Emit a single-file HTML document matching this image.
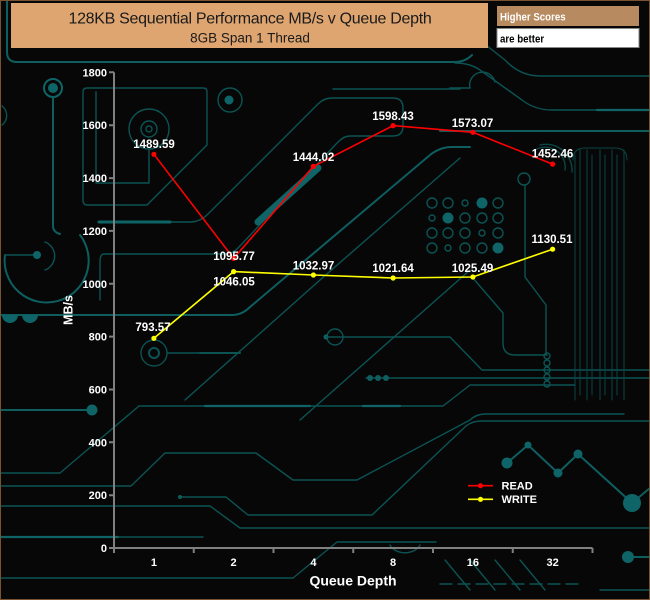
<!DOCTYPE html>
<html>
<head>
<meta charset="utf-8">
<style>
html,body{margin:0;padding:0;background:#070707;}
body{width:650px;height:600px;overflow:hidden;position:relative;}
svg{position:absolute;left:0;top:0;display:block;}
text{font-family:"Liberation Sans",Arial,sans-serif;}
</style>
</head>
<body>
<svg width="650" height="600" viewBox="0 0 650 600" xmlns="http://www.w3.org/2000/svg">
<rect x="0" y="0" width="650" height="600" fill="#070707"/>

<!-- ===== circuit background ===== -->
<g fill="none" stroke="#0c5354" stroke-width="1.4" stroke-linecap="round" stroke-linejoin="round">
  <!-- top frame -->
  <path d="M7,0 V52 Q7,62 17,62 H455 Q465,62 472,55" stroke-width="2" stroke="#0e5e60"/>
  <path d="M455,63 Q470,63 480,70 L522,100 Q535,110 552,110 H650"/>
  <path d="M597,110 H650" stroke-width="2.2" stroke="#0e6466"/>
  <path d="M480,40 Q492,50 505,60 Q520,76 540,76 H650"/>
  <path d="M450,88 H470"/>
  <path d="M470,88 A12,12 0 1 1 495,82"/>
  <path d="M440,131 H650" stroke-width="2" stroke="#0e5e60"/>
  <path d="M333,89 H460"/>
  <!-- left column with ring -->
  <circle cx="53" cy="88" r="9" stroke-width="2" stroke="#0e6466"/>
  <circle cx="53" cy="88" r="5" fill="#0e6466" stroke="none"/>
  <path d="M53,97 V226 Q53,232 60,234" stroke-width="2" stroke="#0e5e60"/>
  <path d="M5,255 A42,42 0 1 0 80,235" stroke-width="2" stroke="#0e5e60"/>
  <path d="M5,255 H33"/>
  <circle cx="37" cy="255" r="4" fill="#0e6466" stroke="none"/>
  <path d="M45,242 A15,15 0 0 1 45,270"/>
  <path d="M2,106 A12,12 0 0 1 2,125"/>
  <!-- box with rings -->
  <path d="M87,88 H203 Q207,88 207,92 V145 L147,205 H87 Q83,205 83,200 V92 Q83,88 87,88"/>
  <path d="M96,92 V183 H149 V150"/>
  <circle cx="149" cy="129" r="20"/>
  <circle cx="149" cy="129" r="8"/>
  <circle cx="149" cy="129" r="3"/>
  <circle cx="230" cy="100" r="12"/>
  <circle cx="229" cy="100" r="4.5" fill="#0e6466" stroke="none"/>
  <!-- channel -->
  <path d="M99,222 H190 Q200,222 208,214 L318,104 Q324,98 332,98 H393 Q403,98 403,108 V126 Q403,136 393,136 H350 Q344,136 338,142 L238,248 Q232,254 225,254 H104 Q100,254 100,262 V300"/>
  <path d="M99,222 H170" stroke-width="3" stroke="#0e6466"/>
  <path d="M258,222 L318,168" stroke-width="7" stroke="#0e6466"/>
  <!-- diagonals -->
  <path d="M0,315 H232 Q242,315 250,307 L430,155 Q440,147 452,147 H470" stroke-width="2" stroke="#0e5e60"/>
  <path d="M185,400 L320,280 L460,158" />
  <path d="M300,420 L470,270"/>
  <!-- semicircles left -->
  <path d="M2,315 A8,8 0 0 0 18,315 Z" fill="#0e6466" stroke="none"/>
  <path d="M22,315 A8,8 0 0 0 38,315 Z" fill="#0e6466" stroke="none"/>
  <!-- ring near 793 -->
  <circle cx="154" cy="353" r="13"/>
  <circle cx="154" cy="353" r="5" stroke-width="2"/>
  <path d="M168,353 H240"/>
  <path d="M200,353 H240" stroke-width="2"/>
  <!-- small ring + lines middle -->
  <circle cx="335" cy="337" r="8"/>
  <circle cx="326" cy="337" r="2.5" fill="#0e6466" stroke="none"/>
  <path d="M326,337 H450 L482,370 H650"/>
  <path d="M366,378 H650"/>
  <circle cx="370" cy="378" r="3" fill="#0e5e60" stroke="none"/>
  <circle cx="378" cy="378" r="3" fill="#0e5e60" stroke="none"/>
  <circle cx="386" cy="378" r="3" fill="#0e5e60" stroke="none"/>
  <path d="M60,473 L139,406 H443 L470,385 H575"/>
  <path d="M205,406 H310 M363,406 H400" stroke-width="2.2" stroke="#0e6466"/>
  <path d="M0,410 H87" stroke-width="2" stroke="#0e5e60"/>
  <circle cx="92" cy="410" r="5.5" fill="#0e6466" stroke="none"/>
  <path d="M0,473 H60"/>
  <!-- lower traces -->
  <path d="M0,486 H131 L165,453 H256 L293,480 H357 L470,420 Q476,414 486,414 H624"/>
  <path d="M180,497 H226 L248,515 H372 L466,426 Q472,421 482,421 H650"/>
  <circle cx="180" cy="497" r="2" fill="#0e5e60" stroke="none"/>
  <path d="M0,506 H210 L240,528 H650"/>
  <path d="M0,537 H203"/>
  <path d="M0,537 H118" stroke-width="2.2" stroke="#0e6466"/>
  <path d="M0,578 H293 L337,542 H436"/>
  <path d="M440,584 H581" stroke-dasharray="12,6"/>
  <path d="M445,560 L470,590 M470,560 L495,590 M495,560 L520,590 M520,560 L545,590"/>
  <path d="M390,545 A16,12 0 0 0 420,545"/>
  <path d="M600,590 L650,590"/>
  <!-- zigzag right -->
  <path d="M507,463 L528,445 L558,473 L578,454 L632,503 L650,488" stroke-width="2" stroke="#0e5e60"/>
  <circle cx="507" cy="463" r="5.5" fill="#0e6466" stroke="none"/>
  <circle cx="528" cy="445" r="3.5" fill="#0e6466" stroke="none"/>
  <circle cx="558" cy="473" r="4.5" fill="#0e6466" stroke="none"/>
  <circle cx="578" cy="454" r="4.5" fill="#0e6466" stroke="none"/>
  <circle cx="632" cy="503" r="9" fill="#0e6466" stroke="none"/>
  <circle cx="628" cy="557" r="6" fill="#0e6466" stroke="none"/>
  <path d="M634,557 H650" stroke-width="2" stroke="#0e5e60"/>
  <!-- right vertical bundle -->
  <path d="M575,155 V400 M580,150 V395 M587,150 V400 M592,155 V395 M600,150 V400 M605,155 V395 M612,150 V400 M617,155 V395 M624,150 V400" stroke-width="1" stroke="#0b4546"/>
  <path d="M573,160 Q573,148 585,148 H615 Q627,148 627,160" stroke-width="1" stroke="#0b4546"/>
  <!-- ring + line near 32 -->
  <circle cx="524" cy="179" r="6"/>
  <path d="M525,185 V277 L546,305 V355"/>
  <path d="M472,277 L503,313 V343 Q503,355 515,355 H547"/>
  <circle cx="547" cy="356" r="3"/><circle cx="547" cy="363" r="3"/><circle cx="547" cy="370" r="3"/><circle cx="547" cy="377" r="3"/><circle cx="547" cy="384" r="3"/>
  <path d="M535,150 A20,20 0 0 1 565,170" stroke="#0b4546"/>
  <path d="M540,145 A26,26 0 0 1 572,172" stroke="#0b4546"/>
</g>
<!-- dot grid -->
<g fill="none" stroke="#0c5354" stroke-width="1.4">
  <circle cx="432" cy="203" r="5"/><circle cx="448" cy="203" r="5"/><circle cx="465" cy="203" r="3"/><circle cx="498" cy="203" r="5"/>
  <circle cx="432" cy="218" r="3"/><circle cx="465" cy="218" r="5"/><circle cx="482" cy="218" r="5"/><circle cx="498" cy="218" r="5"/>
  <circle cx="432" cy="233" r="5"/><circle cx="448" cy="233" r="5"/><circle cx="465" cy="233" r="5"/><circle cx="482" cy="233" r="3"/><circle cx="498" cy="233" r="5"/>
  <circle cx="432" cy="248" r="5"/><circle cx="448" cy="248" r="3"/><circle cx="465" cy="248" r="5"/><circle cx="482" cy="248" r="5"/>
  <circle cx="482" cy="203" r="5.5" fill="#0e6466" stroke="none"/>
  <circle cx="448" cy="218" r="5.5" fill="#0e6466" stroke="none"/>
  <circle cx="498" cy="248" r="5.5" fill="#0e6466" stroke="none"/>
</g>

<!-- outer border -->
<rect x="0.5" y="0.5" width="649" height="599" fill="none" stroke="#7a5232" stroke-width="1"/>

<!-- ===== title boxes ===== -->
<rect x="11" y="3" width="477" height="45" fill="#DEA570"/>
<text x="250" y="23.3" font-size="16" fill="#1a1a1a" text-anchor="middle" letter-spacing="-0.3">128KB Sequential Performance MB/s v Queue Depth</text>
<text x="250" y="42.3" font-size="13.5" fill="#1a1a1a" text-anchor="middle">8GB Span 1 Thread</text>

<rect x="497" y="6" width="142" height="20" fill="#B78A5F"/>
<text x="500" y="20.7" font-size="11" font-weight="bold" fill="#ffffff" transform="translate(500 0) scale(0.88 1) translate(-500 0)">Higher Scores</text>
<rect x="497" y="28.5" width="142" height="19" fill="#ffffff" stroke="#888" stroke-width="1"/>
<text x="500" y="42.7" font-size="11" font-weight="bold" fill="#000000" transform="translate(500 0) scale(0.88 1) translate(-500 0)">are better</text>

<!-- ===== axes ===== -->
<g stroke="#808080" stroke-width="2" fill="none">
  <path d="M114,72.3 V548 H592.5"/>
  <path d="M109,72.3 H114 M109,125.2 H114 M109,178.1 H114 M109,230.9 H114 M109,283.8 H114 M109,336.6 H114 M109,389.5 H114 M109,442.3 H114 M109,495.2 H114 M109,548 H114"/>
  <path d="M114,548 V553 M193.75,548 V553 M273.5,548 V553 M353.25,548 V553 M433,548 V553 M512.75,548 V553 M592.5,548 V553"/>
</g>
<g font-size="11" font-weight="bold" fill="#ffffff" text-anchor="end">
  <text x="107" y="76.3">1800</text>
  <text x="107" y="129.2">1600</text>
  <text x="107" y="182.1">1400</text>
  <text x="107" y="234.9">1200</text>
  <text x="107" y="287.8">1000</text>
  <text x="107" y="340.6">800</text>
  <text x="107" y="393.5">600</text>
  <text x="107" y="446.3">400</text>
  <text x="107" y="499.2">200</text>
  <text x="107" y="552">0</text>
</g>
<g font-size="11" font-weight="bold" fill="#ffffff" text-anchor="middle">
  <text x="153.9" y="566">1</text>
  <text x="233.6" y="566">2</text>
  <text x="313.4" y="566">4</text>
  <text x="393.1" y="566">8</text>
  <text x="472.9" y="566">16</text>
  <text x="552.6" y="566">32</text>
</g>
<text x="353" y="585.5" font-size="14" font-weight="bold" fill="#ffffff" text-anchor="middle">Queue Depth</text>
<text transform="translate(72.5 310) rotate(-90)" font-size="12.5" font-weight="bold" fill="#ffffff" text-anchor="middle">MB/s</text>

<!-- ===== data ===== -->
<polyline points="153.9,338.3 233.6,271.6 313.4,275 393.1,278 472.9,277 552.6,249.2" fill="none" stroke="#ffff00" stroke-width="1.6"/>
<g fill="#ffff00">
  <circle cx="153.9" cy="338.3" r="2.6"/><circle cx="233.6" cy="271.6" r="2.6"/><circle cx="313.4" cy="275" r="2.6"/>
  <circle cx="393.1" cy="278" r="2.6"/><circle cx="472.9" cy="277" r="2.6"/><circle cx="552.6" cy="249.2" r="2.6"/>
</g>
<polyline points="153.9,154.3 233.6,258.4 313.4,166.4 393.1,125.6 472.9,132.3 552.6,164.1" fill="none" stroke="#ff0000" stroke-width="1.6"/>
<g fill="#ff0000">
  <circle cx="153.9" cy="154.3" r="2.6"/><circle cx="233.6" cy="258.4" r="2.6"/><circle cx="313.4" cy="166.4" r="2.6"/>
  <circle cx="393.1" cy="125.6" r="2.6"/><circle cx="472.9" cy="132.3" r="2.6"/><circle cx="552.6" cy="164.1" r="2.6"/>
</g>

<g font-size="11.5" font-weight="bold" fill="#ffffff" text-anchor="middle">
  <text x="154" y="148">1489.59</text>
  <text x="234" y="260">1095.77</text>
  <text x="313.5" y="161">1444.02</text>
  <text x="393" y="120">1598.43</text>
  <text x="472.5" y="127">1573.07</text>
  <text x="552.5" y="157.7">1452.46</text>
  <text x="153" y="331">793.57</text>
  <text x="234" y="285.7">1046.05</text>
  <text x="313.5" y="269.7">1032.97</text>
  <text x="393" y="272">1021.64</text>
  <text x="472.5" y="272">1025.49</text>
  <text x="552" y="243">1130.51</text>
</g>

<!-- legend -->
<path d="M468,485.7 H493" stroke="#ff0000" stroke-width="1.6"/>
<circle cx="480.5" cy="485.7" r="2.6" fill="#ff0000"/>
<path d="M468,499.3 H493" stroke="#ffff00" stroke-width="1.6"/>
<circle cx="480.5" cy="499.3" r="2.6" fill="#ffff00"/>
<g font-size="11" font-weight="bold" fill="#ffffff">
  <text x="501.5" y="489.5">READ</text>
  <text x="501.5" y="503">WRITE</text>
</g>
</svg>
</body>
</html>
